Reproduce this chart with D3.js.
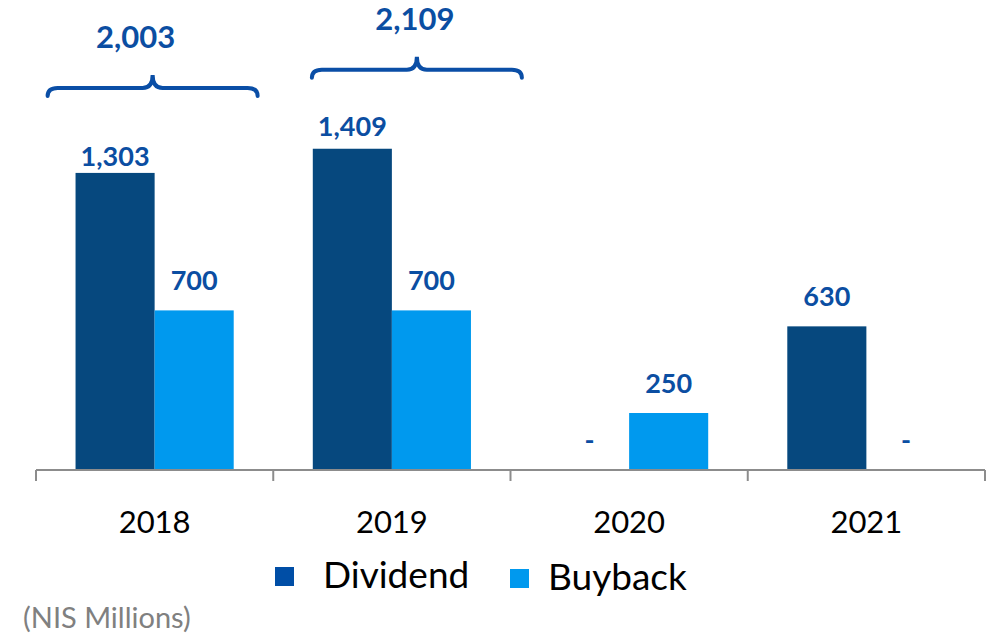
<!DOCTYPE html>
<html>
<head>
<meta charset="utf-8">
<script src="https://cdn.jsdelivr.net/npm/d3@7"></script>
<style>
  html, body { margin: 0; padding: 0; background: #fff; }
  svg { display: block; font-family: Lato, 'Open Sans', sans-serif; }
</style>
</head>
<body>
<svg id="chart" width="995" height="640"></svg>
<script>
var years = ['2018', '2019', '2020', '2021'];
var seriesNames = ['Dividend', 'Buyback'];
var dividend = [1303, 1409, 0, 630];
var buyback = [700, 700, 250, 0];
var totals = [2003, 2109, null, null];

var barColors = {Dividend: '#06487e', Buyback: '#0099ee'};
var legendColors = {Dividend: '#004ea6', Buyback: '#0099ee'};
var labelColor = '#0b4ea2';

// hand placed tweaks, as in the source slide
var labelGap = 20;
var labelNudge = {'2018-Dividend': 13, '2019-Dividend': 7};
var braceShift = {'2018': -2, '2019': 25};
var totalShift = {'2018': -19, '2019': 23};

var svg = d3.select('#chart');
var baseY = 470;

var x0 = d3.scaleBand().domain(years).range([36, 985]).paddingInner(0).paddingOuter(0);
var x1 = d3.scaleBand().domain(seriesNames).range([0, x0.bandwidth()]).paddingInner(0).paddingOuter(0.5);
var y = d3.scaleLinear().domain([0, 2000]).range([baseY, baseY - 456]);

var fmt = d3.format(',');

var rows = years.map(function(yr, i) {
  return {year: yr, values: [
    {year: yr, key: 'Dividend', value: dividend[i]},
    {year: yr, key: 'Buyback', value: buyback[i]}
  ], total: totals[i]};
});

//
// Bars
//
var group = svg.selectAll('.group')
    .data(rows)
    .enter()
    .append('g')
    .attr('class', 'group')
    .attr('transform', function(d) { return 'translate(' + x0(d.year) + ',0)'; });

group.selectAll('rect')
    .data(function(d) { return d.values; })
    .enter()
    .append('rect')
    .attr('x', function(d) { return x1(d.key); })
    .attr('y', function(d) { return y(d.value); })
    .attr('width', x1.bandwidth())
    .attr('height', function(d) { return baseY - y(d.value); })
    .attr('fill', function(d) { return barColors[d.key]; });

group.selectAll('.val')
    .data(function(d) { return d.values; })
    .enter()
    .append('text')
    .attr('class', 'val')
    .attr('x', function(d) { return x1(d.key) + x1.bandwidth() / 2; })
    .attr('y', function(d) {
      return y(d.value) - labelGap + (labelNudge[d.year + '-' + d.key] || 0);
    })
    .attr('text-anchor', 'middle')
    .attr('font-weight', 700)
    .attr('font-size', 27)
    .attr('fill', labelColor)
    .text(function(d) { return d.value > 0 ? fmt(d.value) : '-'; });

//
// Axis
//
var axis = svg.append('g').attr('stroke', '#8c8c8c').attr('stroke-width', 2);
axis.append('line')
    .attr('x1', x0.range()[0]).attr('x2', x0.range()[1])
    .attr('y1', baseY).attr('y2', baseY);
axis.selectAll('.tick')
    .data(years.map(function(yr) { return x0(yr); }).concat([x0.range()[1]]))
    .enter()
    .append('line')
    .attr('x1', function(d) { return d; }).attr('x2', function(d) { return d; })
    .attr('y1', baseY).attr('y2', baseY + 11);

svg.selectAll('.cat')
    .data(years)
    .enter()
    .append('text')
    .attr('x', function(d) { return x0(d) + x0.bandwidth() / 2; })
    .attr('y', 533)
    .attr('text-anchor', 'middle')
    .attr('font-size', 31)
    .attr('fill', '#000')
    .text(function(d) { return d; });

//
// Braces with totals
//
var braceRows = rows.filter(function(d) { return d.total != null; });
var braceHalf = 105;

function bracePath(cx, by) {
  var l = cx - braceHalf, r = cx + braceHalf, rad = 7;
  return 'M' + l + ',' + (by + 8) +
    'Q' + l + ',' + by + ' ' + (l + rad + 3) + ',' + by +
    'L' + (cx - rad - 3) + ',' + by +
    'Q' + cx + ',' + by + ' ' + cx + ',' + (by - 13) +
    'Q' + cx + ',' + by + ' ' + (cx + rad + 3) + ',' + by +
    'L' + (r - rad - 3) + ',' + by +
    'Q' + r + ',' + by + ' ' + r + ',' + (by + 8);
}

var braceY = function(d) { return y(d.total) * 0.75 + 78; };
var groupMid = function(d) { return x0(d.year) + x0.bandwidth() / 2; };

svg.selectAll('.brace')
    .data(braceRows)
    .enter()
    .append('path')
    .attr('d', function(d) { return bracePath(groupMid(d) + braceShift[d.year], braceY(d)); })
    .attr('fill', 'none')
    .attr('stroke', '#0a4ea6')
    .attr('stroke-width', 4)
    .attr('stroke-linecap', 'round');

svg.selectAll('.total')
    .data(braceRows)
    .enter()
    .append('text')
    .attr('x', function(d) { return groupMid(d) + totalShift[d.year]; })
    .attr('y', function(d) { return braceY(d) - 40; })
    .attr('text-anchor', 'middle')
    .attr('font-weight', 700)
    .attr('font-size', 31)
    .attr('fill', labelColor)
    .text(function(d) { return fmt(d.total); });

//
// Legend
//
var legendX = [275, 510];
var legendTextX = [48, 38];
var legend = svg.selectAll('.legend')
    .data(seriesNames)
    .enter()
    .append('g')
    .attr('transform', function(d, i) { return 'translate(' + legendX[i] + ',' + (567 + i * 2) + ')'; });

legend.append('rect')
    .attr('width', 19)
    .attr('height', 19)
    .attr('fill', function(d) { return legendColors[d]; });

legend.append('text')
    .attr('x', function(d, i) { return legendTextX[i]; })
    .attr('y', 21)
    .attr('font-size', 37)
    .attr('fill', '#000')
    .text(function(d) { return d; });

svg.append('text')
    .attr('x', 23)
    .attr('y', 628)
    .attr('font-size', 29)
    .attr('fill', '#808080')
    .text('(NIS Millions)');
</script>
</body>
</html>
